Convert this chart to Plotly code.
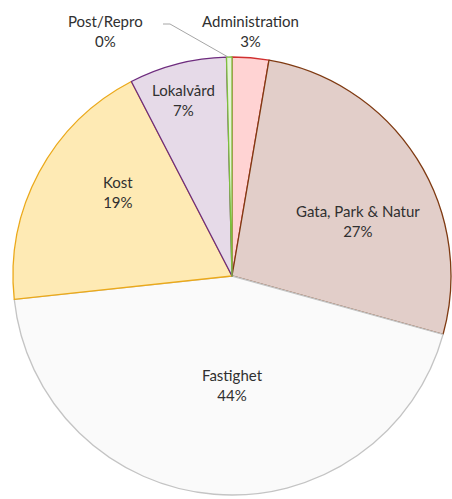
import plotly.graph_objects as go

labels = ["Administration", "Gata, Park & Natur", "Fastighet", "Kost", "Lokalvård", "Post/Repro"]
values = [2.7, 26.6, 44.0, 19.1, 7.2, 0.4]
fill_colors = ["#FFD3D3", "#E2CEC9", "#FAFAFA", "#FEEAB4", "#E6DAE8", "#E6F3D6"]
line_colors = ["#D03030", "#7F3A12", "#C4C4C4", "#EBA91A", "#6E2C7E", "#7DBE3C"]

W, H = 452, 499
# pie placement in pixels
cx, cy, R = 232, 276, 219

# label anchor positions (pixels) for each slice label
label_pos = {
    "Administration": (250, 31),
    "Gata, Park & Natur": (358, 221),
    "Fastighet": (232, 385),
    "Kost": (118, 192),
    "Lokalvård": (183, 100),
    "Post/Repro": (105, 31),
}

total = sum(values)
fig = go.Figure(go.Pie(
    labels=labels,
    values=values,
    sort=False,
    direction="clockwise",
    rotation=0,
    textinfo="none",
    hoverinfo="label+percent",
    marker=dict(colors=fill_colors, line=dict(color=line_colors, width=1.3)),
    domain=dict(x=[(cx - R) / W, (cx + R) / W], y=[1 - (cy + R) / H, 1 - (cy - R) / H]),
    showlegend=False,
))

font = dict(family="Lato, 'Open Sans', sans-serif", size=15, color="#303030")
for lab, v in zip(labels, values):
    px, py = label_pos[lab]
    pct = round(v / total * 100)
    fig.add_annotation(
        x=px / W, y=1 - py / H, xref="paper", yref="paper",
        text=f"{lab}<br>{pct}%", showarrow=False, font=font,
        xanchor="center", yanchor="middle", align="center",
    )

# leader line for Post/Repro
fig.add_shape(
    type="path", xref="paper", yref="paper",
    path=f"M {163/W} {1-24/H} L {170/W} {1-24/H} L {228/W} {1-57/H}",
    line=dict(color="#A6A6A6", width=1),
)

fig.update_layout(
    width=W, height=H,
    margin=dict(l=0, r=0, t=0, b=0),
    paper_bgcolor="white", plot_bgcolor="white",
)
fig.write_html("out.html", config={"displayModeBar": False},
               post_script="document.body.style.margin='0';")
